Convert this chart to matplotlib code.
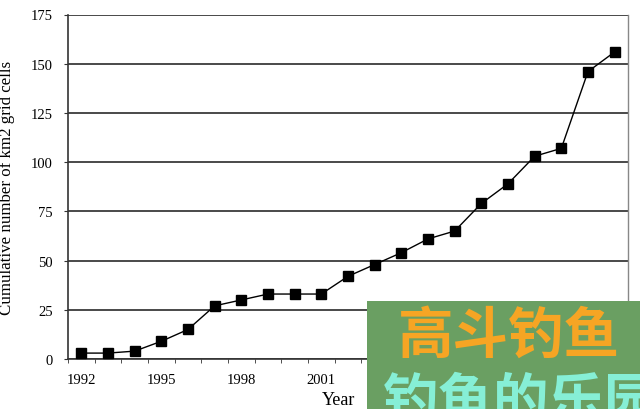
import matplotlib
matplotlib.use("Agg")
import matplotlib.pyplot as plt
from matplotlib.patches import Rectangle
import numpy as np

years = list(range(1992, 2013))
values = [3, 3, 4, 9, 15, 27, 30, 33, 33, 33, 42, 48, 54, 61, 65, 79, 89, 103, 107, 146, 156]
yticks = [0, 25, 50, 75, 100, 125, 150, 175]
xlabel_years = [1992, 1995, 1998, 2001, 2004, 2007, 2010]

plt.rcParams['font.family'] = ['Liberation Serif', 'DejaVu Serif']

fig = plt.figure(figsize=(6.4, 4.1), dpi=100)
ax = fig.add_axes([68/640, 1-360/410, 560/640, 344.5/410])

x = np.arange(len(years))
ax.plot(x, values, color='black', lw=1.0, marker='s', markersize=6.5,
        markerfacecolor='black', markeredgecolor='black', zorder=3)

ax.set_xlim(-0.5, len(years) - 0.5)
ax.set_ylim(0, 175)
ax.set_yticks(yticks)
ax.set_yticklabels([str(v) for v in yticks], fontsize=10.5)
ax.yaxis.grid(True, color='#3a3a3a', lw=1.3)
ax.set_axisbelow(True)

pos = [years.index(y) for y in xlabel_years]
ax.set_xticks(pos)
ax.set_xticklabels([str(y) for y in xlabel_years], fontsize=10.5)
ax.tick_params(axis='x', length=0, pad=10)
ax.set_xticks(np.arange(-0.5, len(years), 1), minor=True)
ax.tick_params(axis='x', which='minor', length=3, direction='out', color='#333333')
ax.tick_params(axis='y', length=3, direction='out', color='#333333', pad=8)

for s in ['left', 'bottom']:
    ax.spines[s].set_color('#333333')
    ax.spines[s].set_linewidth(1.2)
ax.spines['right'].set_color('#888888')
ax.spines['right'].set_linewidth(1.0)
ax.spines['top'].set_visible(False)

ax.set_ylabel('Cumulative number of km2 grid cells', fontsize=12.2)
ax.yaxis.set_label_coords(-53/560, 0.5)
fig.text(339/640, 1-401/410, 'Year', fontsize=13, ha='center', va='center')

# watermark overlay
fig.patches.append(Rectangle((367/640, 0), 273/640, 108/410, transform=fig.transFigure,
                             facecolor='#6a9f62', edgecolor='none', zorder=10))
fig.text(398/640, 1-337/410, '高斗钓鱼', fontsize=40, color='#f6a524', fontweight='bold',
         family=['Noto Sans CJK SC', 'DejaVu Sans'], ha='left', va='center', zorder=11)
fig.text(383/640, 1-403/410, '钓鱼的乐园', fontsize=40, color='#86efd6', fontweight='bold',
         family=['Noto Sans CJK SC', 'DejaVu Sans'], ha='left', va='center', zorder=11)

fig.savefig('out.png', dpi=100, facecolor='white')
